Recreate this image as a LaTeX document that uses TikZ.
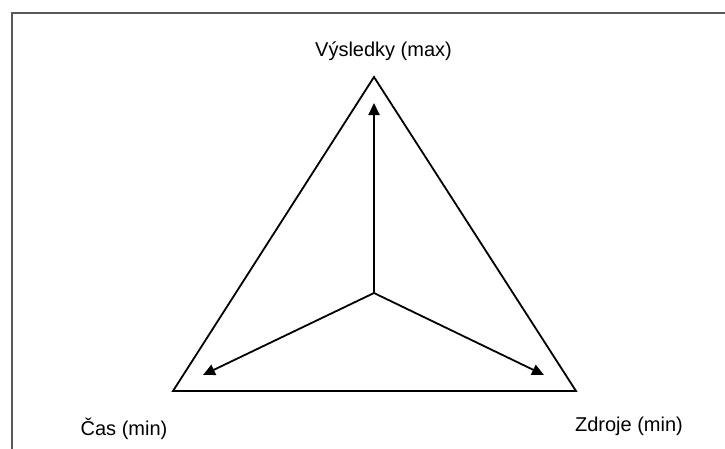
\documentclass[tikz,border=0pt]{standalone}
\usepackage{fontspec}
\setmainfont{Liberation Sans}
\usepackage{tikz}
\usetikzlibrary{arrows.meta,positioning,calc}

\begin{document}
\begin{tikzpicture}[
  x=1pt, y=-1pt,
  frame/.style={draw=black!65, line width=2pt},
  edge/.style={draw, line width=1.8pt, line join=miter},
  arrow/.style={-{Triangle[length=12pt,width=11pt]}, line width=1.8pt},
  label/.style={font=\fontsize{20}{24}\selectfont, inner sep=0pt, anchor=base}
]
\useasboundingbox (0,0) rectangle (725,448);
\draw[frame] (11.5,460) -- (11.5,12.5) -- (740,12.5);

% corners of the triangle
\coordinate (top) at (374,77);
\coordinate (left) at (173,391);
\coordinate (right) at (576,391);
\coordinate (mid) at (374,293);
\draw[edge] (top) -- (left) -- (right) -- cycle;

% arrow ends
\coordinate (topend) at (374,103);
\coordinate (leftend) at (203,375);
\coordinate (rightend) at (544,375);
\draw[arrow] (mid) -- (topend);
\draw[arrow] (mid) -- (leftend);
\draw[arrow] (mid) -- (rightend);

\node[label] (vysledky) at (383.5,56.5) {Výsledky (max)};
\node[label] (cas) at (124,435) {Čas (min)};
\node[label] (zdroje) at (629,431) {Zdroje (min)};
\end{tikzpicture}
\end{document}
